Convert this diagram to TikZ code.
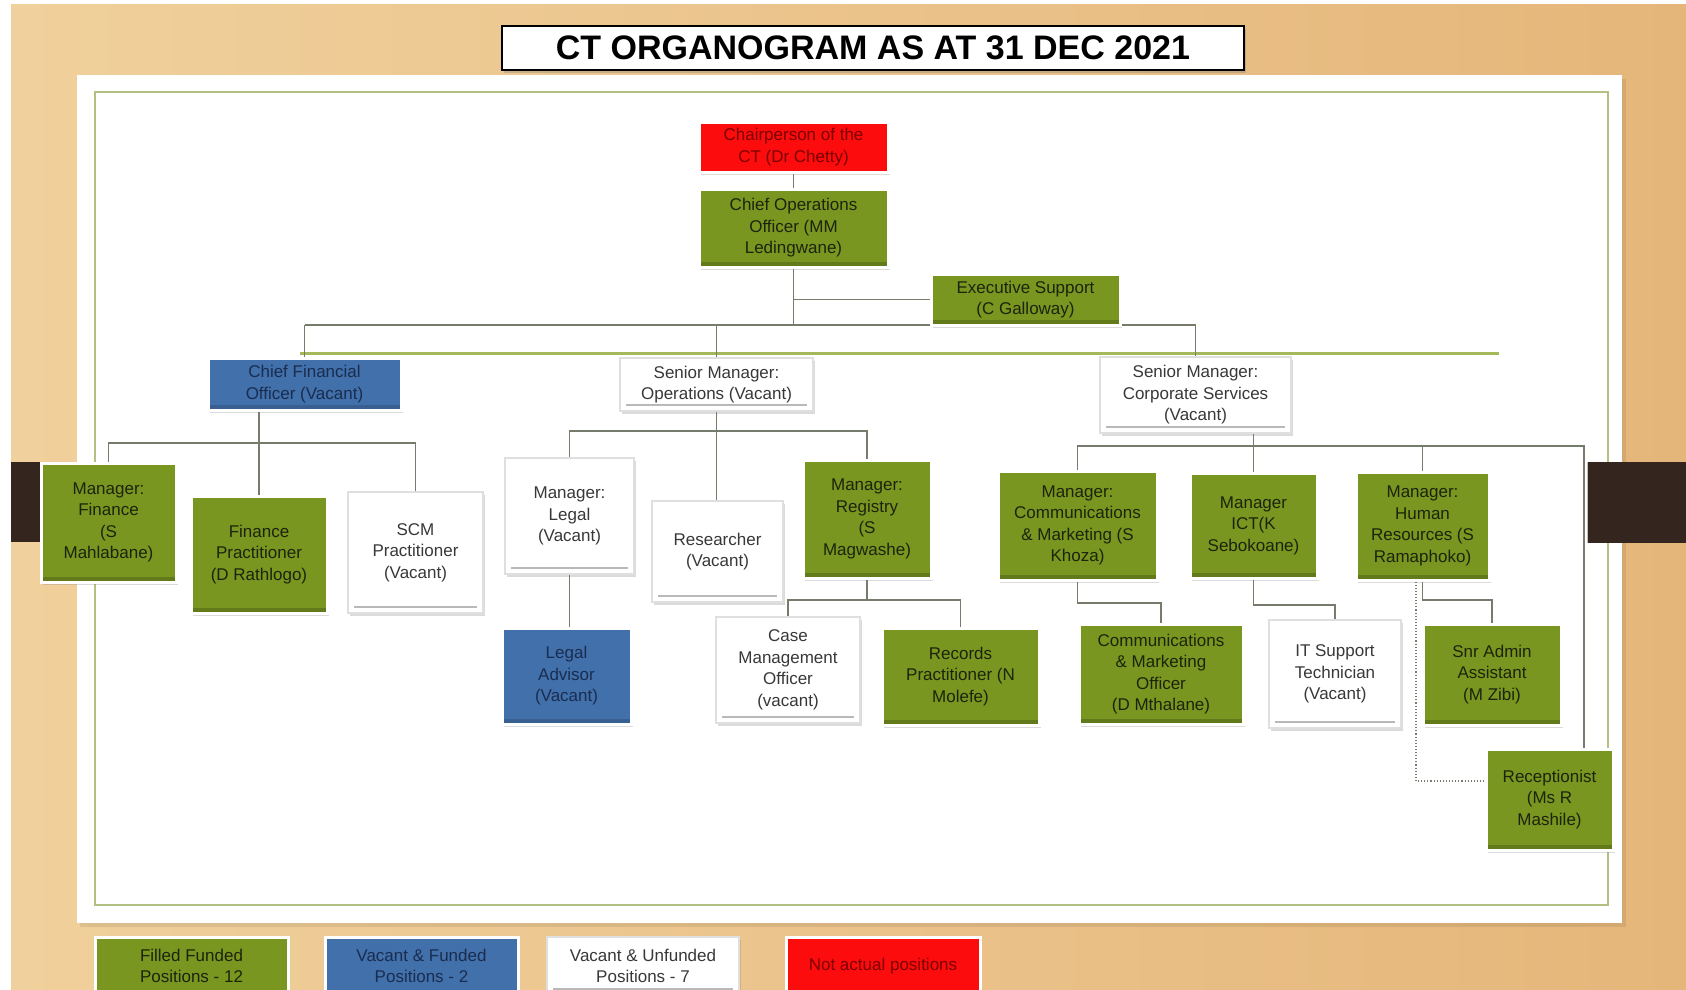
\documentclass[tikz,border=0pt]{standalone}
\usepackage{fontspec}
\setmainfont{Liberation Sans}
\usetikzlibrary{shadows}
\definecolor{olv}{RGB}{121,150,32}
\definecolor{blu}{RGB}{66,112,170}
\definecolor{redb}{RGB}{252,12,12}
\definecolor{tanA}{RGB}{240,208,156}
\definecolor{tanB}{RGB}{236,199,145}
\definecolor{tanC}{RGB}{229,182,122}
\definecolor{frm}{RGB}{178,192,130}
\definecolor{gline}{RGB}{165,185,90}
\definecolor{connc}{RGB}{118,124,108}
\definecolor{darkb}{RGB}{52,38,30}
\definecolor{gtext}{RGB}{28,36,12}
\definecolor{btext}{RGB}{25,45,80}
\definecolor{rtext}{RGB}{125,0,0}
\pgfdeclarelayer{bgl}
\pgfdeclarelayer{midl}
\pgfsetlayers{bgl,midl,main}
\tikzset{
  box/.style={rectangle, align=center, inner sep=2pt,
    font=\fontsize{17}{21.5}\selectfont,
    drop shadow={opacity=0.28, shadow xshift=2pt, shadow yshift=-3pt}},
  gbox/.style={box, fill=olv, draw=white, line width=3pt, text=gtext,
    path picture={\fill[black,opacity=0.18] ([yshift=5pt]path picture bounding box.south west) rectangle (path picture bounding box.south east);}},
  bbox/.style={box, fill=blu, draw=white, line width=3pt, text=btext,
    path picture={\fill[black,opacity=0.15] ([yshift=5pt]path picture bounding box.south west) rectangle (path picture bounding box.south east);}},
  wbox/.style={box, fill=white, draw=gray!25, line width=2pt, text=black!78,
    path picture={\draw[gray!55, line width=2.5pt] ([xshift=6pt,yshift=6pt]path picture bounding box.south west) -- ([xshift=-6pt,yshift=6pt]path picture bounding box.south east);}},
  rbox/.style={box, fill=redb, draw=white, line width=3pt, text=rtext},
  connl/.style={draw=connc, line width=1.1pt},
}
\newcommand{\bx}[6]{\node[#1, minimum width=#4pt, minimum height=#5pt] (#2) at (#3) {#6};}
\begin{document}
\begin{tikzpicture}[x=1pt,y=-1pt]
\useasboundingbox (0,0) rectangle (1686,990);
\clip (0,0) rectangle (1686,990);
\begin{pgfonlayer}{bgl}
  \fill[white] (0,0) rectangle (1686,990);
  \shade[left color=tanA, middle color=tanB, right color=tanC] (11,5) rectangle (1686,990);
  \fill[black, opacity=0.08] (80,79) rectangle (1626,927);
  \fill[white] (77,75) rectangle (1622,923);
  \draw[frm, line width=2pt] (95,92) rectangle (1608,905);
  \draw[gline, line width=3pt] (300,353) -- (1499,353);
  \fill[darkb] (11,462) rectangle (43,542);
\end{pgfonlayer}

\node[draw=black, line width=2pt, fill=white, minimum width=742pt, minimum height=44pt,
  drop shadow={opacity=0.35, shadow xshift=2pt, shadow yshift=-3pt},
  font=\bfseries\fontsize{34}{40}\selectfont] (title) at (873,48) {CT ORGANOGRAM AS AT 31 DEC 2021};

\bx{rbox}{chair}{793.5,147}{189}{50}{Chairperson of the\\CT (Dr Chetty)}
\bx{gbox}{coo}{793.5,228}{189}{78}{Chief Operations\\Officer (MM\\Ledingwane)}
\bx{gbox}{exec}{1025.5,299.5}{189}{51}{Executive Support\\(C Galloway)}
\bx{bbox}{cfo}{304.5,384}{193}{52}{Chief Financial\\Officer (Vacant)}
\bx{wbox}{smo}{716.5,384.5}{193}{53}{Senior Manager:\\Operations\ (Vacant)}
\bx{wbox}{smcs}{1195.5,395}{191}{76}{Senior Manager:\\Corporate Services\\(Vacant)}
\bx{gbox}{mfin}{108.5,522.5}{135}{119}{Manager:\\Finance\\(S\\Mahlabane)}
\bx{gbox}{fprac}{259,554.5}{136}{117}{Finance\\Practitioner\\(D Rathlogo)}
\bx{wbox}{scm}{415.5,552.5}{135}{121}{SCM\\Practitioner\\(Vacant)}
\bx{wbox}{mlegal}{569.5,516}{129}{116}{Manager:\\Legal\\(Vacant)}
\bx{wbox}{research}{717.5,551.5}{131}{101}{Researcher\\(Vacant)}
\bx{gbox}{mreg}{867,519}{128}{118}{Manager:\\Registry\\(S\\Magwashe)}
\bx{bbox}{ladv}{566.5,676}{129}{96}{Legal\\Advisor\\(Vacant)}
\bx{wbox}{case}{788,670}{144}{106}{Case\\Management\\Officer\\(vacant)}
\bx{gbox}{records}{960.5,676.5}{157}{97}{Records\\Practitioner (N\\Molefe)}
\bx{gbox}{mcomm}{1077.5,525.5}{159}{109}{Manager:\\Communications\\\& Marketing (S\\Khoza)}
\bx{gbox}{mict}{1253.5,525.5}{127}{105}{Manager\\ICT(K\\Sebokoane)}
\bx{gbox}{mhr}{1422.5,526}{133}{108}{Manager:\\Human\\Resources (S\\Ramaphoko)}
\bx{gbox}{commoff}{1161,674}{164}{100}{Communications\\\& Marketing\\Officer\\(D Mthalane)}
\bx{wbox}{itsup}{1335,674}{132}{108}{IT Support\\Technician\\(Vacant)}
\bx{gbox}{snradm}{1492,674.5}{138}{101}{Snr Admin\\Assistant\\(M Zibi)}
\bx{gbox}{recep}{1549.5,799.5}{127}{101}{Receptionist\\(Ms R\\Mashile)}

\bx{gbox}{lg1}{191.5,966}{193}{58}{Filled Funded\\Positions - 12}
\bx{bbox}{lg2}{421.5,966}{193}{58}{Vacant \& Funded\\Positions - 2}
\bx{wbox}{lg3}{643,966}{192}{58}{Vacant \& Unfunded\\Positions - 7}
\bx{rbox}{lg4}{883,966}{194}{58}{Not actual positions}

\fill[darkb] (1587,462) rectangle (1686,543);
\draw[gray!50, line width=1pt] (1587,462) -- (1587,543);

\begin{pgfonlayer}{midl}
  \coordinate (topbus) at (0,325);
  \coordinate (cfobus) at (0,443);
  \coordinate (smobus) at (0,431);
  \coordinate (regbus) at (0,600);
  \coordinate (csbus) at (0,446);
  \coordinate (cb1) at (0,603);
  \coordinate (cb2) at (0,605);
  \coordinate (cb3) at (0,600);
  \coordinate (recv) at (1584,0);
  \coordinate (dotx) at (1416,0);
  \coordinate (doty) at (0,781);
  \draw[connl] (chair.south) -- (coo.north);
  \draw[connl] (coo.south) -- (coo.south |- topbus);
  \draw[connl] (cfo.north |- topbus) -- (smcs.north |- topbus);
  \draw[connl] (cfo.north |- topbus) -- (cfo.north);
  \draw[connl] (smo.north |- topbus) -- (smo.north);
  \draw[connl] (smcs.north |- topbus) -- (smcs.north);
  \draw[connl] (coo.south |- exec.west) -- (exec.west);
  % CFO
  \draw[connl] (fprac.north |- cfo.south) -- (fprac.north);
  \draw[connl] (mfin.north) -- (mfin.north |- cfobus) -- (scm.north |- cfobus) -- (scm.north);
  % Operations
  \draw[connl] (smo.south) -- (smo.south |- research.north);
  \draw[connl] (mlegal.north) -- (mlegal.north |- smobus) -- (mreg.north |- smobus) -- (mreg.north);
  \draw[connl] (mlegal.south) -- (mlegal.south |- ladv.north);
  \draw[connl] (mreg.south) -- (mreg.south |- regbus);
  \draw[connl] (case.north) -- (case.north |- regbus) -- (records.north |- regbus) -- (records.north);
  % Corporate services
  \draw[connl] (mict.north |- smcs.south) -- (mict.north);
  \draw[connl] (mcomm.north) -- (mcomm.north |- csbus) -- (recv |- csbus) -- (recv |- recep.north);
  \draw[connl] (mhr.north |- csbus) -- (mhr.north);
  \draw[connl] (mcomm.south) -- (mcomm.south |- cb1) -- (commoff.north |- cb1) -- (commoff.north);
  \draw[connl] (mict.south) -- (mict.south |- cb2) -- (itsup.north |- cb2) -- (itsup.north);
  \draw[connl] (mhr.south) -- (mhr.south |- cb3) -- (snradm.north |- cb3) -- (snradm.north);
  \draw[connl, dotted, line width=1.3pt] (dotx |- mhr.south) -- (dotx |- doty) -- (recep.west |- doty);
\end{pgfonlayer}
\end{tikzpicture}
\end{document}
